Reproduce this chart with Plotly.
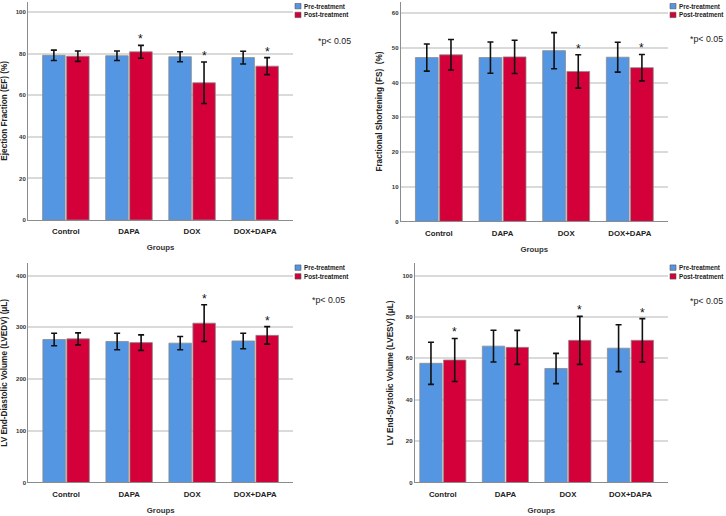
import plotly.graph_objects as go

W, H = 726, 516

groups = ["Control", "DAPA", "DOX", "DOX+DAPA"]
series_names = ["Pre-treatment", "Post-treatment"]

# Ejection fraction (%)
ef_pre = [79.2, 79.0, 78.5, 78.1]
ef_pre_err = [2.5, 2.3, 2.4, 3.1]
ef_post = [78.8, 80.9, 66.0, 74.0]
ef_post_err = [2.5, 3.1, 10.0, 4.1]
ef_sig = [False, True, True, True]

# Fractional shortening (%)
fs_pre = [47.2, 47.2, 49.2, 47.3]
fs_pre_err = [3.9, 4.5, 5.2, 4.3]
fs_post = [48.0, 47.4, 43.2, 44.3]
fs_post_err = [4.4, 4.8, 4.8, 3.8]
fs_sig = [False, False, True, True]

# LV end-diastolic volume (uL)
edv_pre = [276.4, 272.6, 269.4, 273.6]
edv_pre_err = [12.2, 16.0, 12.8, 15.0]
edv_post = [277.7, 270.4, 308.0, 284.4]
edv_post_err = [11.6, 15.0, 35.5, 17.0]
edv_sig = [False, False, True, True]

# LV end-systolic volume (uL)
esv_pre = [57.6, 65.9, 55.1, 64.9]
esv_pre_err = [10.2, 7.7, 7.3, 11.3]
esv_post = [59.2, 65.3, 68.7, 68.7]
esv_post_err = [10.4, 8.2, 11.6, 10.5]
esv_sig = [True, False, True, True]

y_titles = [
    "Ejection Fraction (EF) (%)",
    "Fractional Shortening (FS)  (%)",
    "LV End-Diastolic Volume (LVEDV) (μL)",
    "LV End-Systolic Volume (LVESV) (μL)",
]
note_text = "*p< 0.05"

BLUE = "#5596e3"
RED = "#d3003a"
FONT = "Liberation Sans, Arial, sans-serif"

panels = [
    dict(pre=ef_pre, pre_err=ef_pre_err, post=ef_post, post_err=ef_post_err, sig=ef_sig,
         yr=[0, 105], dtick=20, xpx=(28, 293), ypx=(1.7, 221.3), xr=[-0.6, 3.6],
         note=(353, 41)),
    dict(pre=fs_pre, pre_err=fs_pre_err, post=fs_post, post_err=fs_post_err, sig=fs_sig,
         yr=[0, 63.3], dtick=10, xpx=(400.7, 668), ypx=(1.7, 222.7), xr=[-0.6, 3.6],
         note=(724.5, 39.5)),
    dict(pre=edv_pre, pre_err=edv_pre_err, post=edv_post, post_err=edv_post_err, sig=edv_sig,
         yr=[0, 424], dtick=100, xpx=(28.3, 293), ypx=(264.7, 485.3), xr=[-0.6, 3.6],
         note=(347, 301.5)),
    dict(pre=esv_pre, pre_err=esv_pre_err, post=esv_post, post_err=esv_post_err, sig=esv_sig,
         yr=[0, 106], dtick=20, xpx=(414.7, 668), ypx=(264.7, 485.3), xr=[-0.45, 3.6],
         note=(724.5, 303)),
]


def px(x):
    return x / W


def py(y):
    return 1 - y / H


fig = go.Figure()
annotations = []
shapes = []

for i, p in enumerate(panels):
    k = "" if i == 0 else str(i + 1)
    xa, ya = "x" + k, "y" + k
    for name, vals, errs, col in [
        (series_names[0], p["pre"], p["pre_err"], BLUE),
        (series_names[1], p["post"], p["post_err"], RED),
    ]:
        fig.add_trace(go.Bar(
            x=groups, y=vals, name=name, xaxis=xa, yaxis=ya, showlegend=False,
            marker=dict(color=col, line=dict(color="#8a8a8a", width=0.8)),
            error_y=dict(type="data", array=errs, color="#111111", thickness=1.6, width=3),
        ))
    fig.layout["xaxis" + k] = dict(
        domain=[px(p["xpx"][0]), px(p["xpx"][1])], anchor=ya, range=p["xr"],
        type="category", categoryorder="array", categoryarray=groups,
        showgrid=False, showline=True, linecolor="#8c8c8c", linewidth=1,
        ticks="", ticklabelstandoff=4,
        tickfont=dict(family=FONT, size=7.8, color="#222", weight="bold"),
        title=dict(text="Groups", font=dict(family=FONT, size=7.8, color="#333", weight="bold"),
                   standoff=9),
        fixedrange=True,
    )
    fig.layout["yaxis" + k] = dict(
        domain=[py(p["ypx"][1]), py(p["ypx"][0])], anchor=xa, range=p["yr"],
        dtick=p["dtick"], tick0=0, showgrid=True, gridcolor="#dadada", gridwidth=1.5,
        showline=True, linecolor="#8c8c8c", linewidth=1, zeroline=False,
        ticks="", tickfont=dict(family=FONT, size=6, color="#333", weight="bold"),
        title=dict(text=y_titles[i], font=dict(family=FONT, size=8.2, color="#222", weight="bold"),
                   standoff=7),
        fixedrange=True,
    )
    # significance asterisks above post-treatment bars
    for j, s in enumerate(p["sig"]):
        if s:
            annotations.append(dict(
                x=j + 0.19, y=p["post"][j] + p["post_err"][j], xref=xa, yref=ya,
                text="*", showarrow=False, yanchor="bottom", yshift=-3,
                font=dict(family=FONT, size=12, color="#111"),
            ))
    # manual legend
    R = p["xpx"][1]
    top = p["ypx"][0]
    for r, (name, col) in enumerate(zip(series_names, [BLUE, RED])):
        y0 = top + 1.8 + r * 8.8
        shapes.append(dict(type="rect", xref="paper", yref="paper",
                           x0=px(R + 2), x1=px(R + 8), y0=py(y0 + 5.4), y1=py(y0),
                           fillcolor=col, line=dict(color="#555", width=0.6)))
        annotations.append(dict(
            x=px(R + 8.6), y=py(y0 + 2.7), xref="paper", yref="paper", text=name,
            showarrow=False, xanchor="left", yanchor="middle",
            font=dict(family=FONT, size=6.3, color="#222", weight="bold"),
        ))
    annotations.append(dict(
        x=px(p["note"][0]), y=py(p["note"][1]), xref="paper", yref="paper", text=note_text,
        showarrow=False, xanchor="right", yanchor="middle",
        font=dict(family=FONT, size=8.8, color="#222"),
    ))

fig.update_layout(
    width=W, height=H, margin=dict(l=0, r=0, t=0, b=0),
    paper_bgcolor="white", plot_bgcolor="white",
    barmode="group", bargap=0.24, bargroupgap=0.06,
    annotations=annotations, shapes=shapes,
    font=dict(family=FONT),
)

fig.write_html(
    "out.html",
    config={"displayModeBar": False},
    post_script="document.body.style.margin='0';document.body.style.overflow='hidden';",
)
